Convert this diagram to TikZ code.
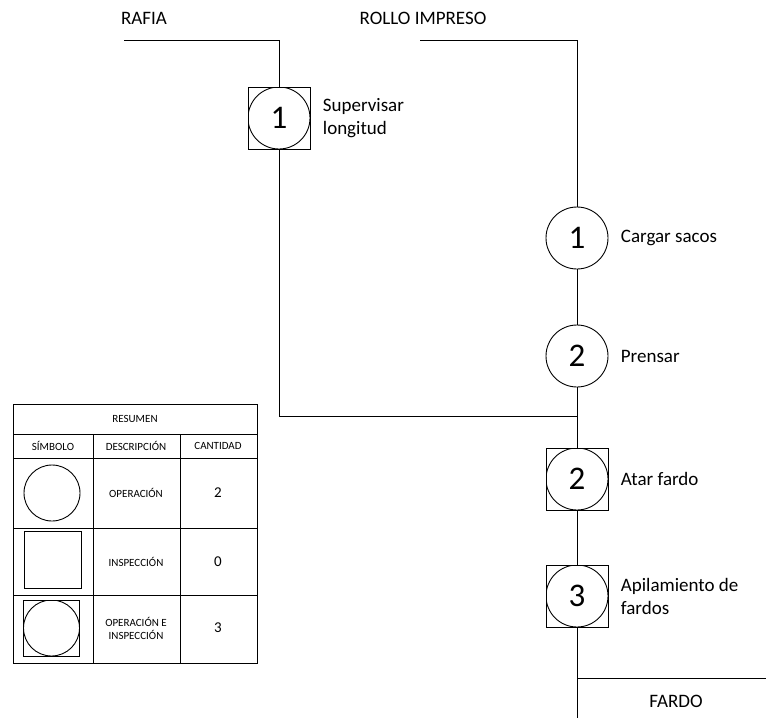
\documentclass[tikz,border=0pt]{standalone}
\usepackage{fontspec}
\setmainfont{Carlito}
\usepackage{tikz}
\usetikzlibrary{positioning}

\begin{document}
\begin{tikzpicture}[
  x=1pt, y=-1pt,
  line width=0.9pt,
  lbl/.style={font=\fontsize{19}{23}\selectfont, align=left, inner sep=0pt},
  op/.style={draw, circle, minimum size=62pt, inner sep=0pt,
    font=\fontsize{33}{33}\selectfont},
  opinsp/.style={draw, minimum size=62pt, inner sep=0pt,
    font=\fontsize{33}{33}\selectfont,
    path picture={\draw (path picture bounding box.center) circle (31pt);}},
  tab/.style={font=\fontsize{11}{13}\selectfont, align=center, inner sep=0pt},
  tabnum/.style={font=\fontsize{15}{15}\selectfont, inner sep=0pt},
]
\useasboundingbox (0,0) rectangle (766,720);

% flow symbols
\node[opinsp] (sup) at (279,118) {1};
\node[op] (op1) at (577,238) {1};
\node[op] (op2) at (577,356) {2};
\node[opinsp] (sq2) at (577,479) {2};
\node[opinsp] (sq3) at (577,596) {3};

\node[lbl, right=12pt of sup] (supl) {Supervisar\\longitud};
\node[lbl, right=12pt of op1] (op1l) {Cargar sacos};
\node[lbl, right=12pt of op2] (op2l) {Prensar};
\node[lbl, right=12pt of sq2] (sq2l) {Atar fardo};
\node[lbl, right=12pt of sq3] (sq3l) {Apilamiento de\\fardos};

\node[lbl] (rafia) at (144,18) {RAFIA};
\node[lbl] (rollo) at (423,18) {ROLLO IMPRESO};
\node[lbl] (fardo) at (676,701) {FARDO};

\coordinate (rafiaend) at (124,40);
\coordinate (rolloend) at (420,40);
\coordinate (junc) at (577,416);
\coordinate (fardoend) at (577,718);
\coordinate (fardocorner) at (577,678);
\coordinate (fardoline) at (766,678);

\draw (rafiaend) -| (sup.north);
\draw (sup.south) |- (junc);
\draw (rolloend) -| (op1.north);
\draw (op1) -- (op2);
\draw (op2.south) -- (junc);
\draw (junc) -- (sq2.north);
\draw (sq2.south) -- (sq3.north);
\draw (sq3.south) -- (fardoend);
\draw (fardocorner) -- (fardoline);

% summary table
\draw (13,404) rectangle (257,663);
\foreach \y in {434,458,528,595}
  \draw (13,\y) -- (257,\y);
\foreach \x in {93,180}
  \draw (\x,434) -- (\x,663);

\node[tab] (resumen) at (135,419) {RESUMEN};
\node[tab] (hsim) at (53,446) {SÍMBOLO};
\node[tab] (hdes) at (136,446) {DESCRIPCIÓN};
\node[tab] (hcan) at (218,446) {CANTIDAD};

\node[draw, circle, minimum size=56pt, inner sep=0pt] (symop) at (52,493) {};
\node[tab] (desop) at (136,493) {OPERACIÓN};
\node[tabnum] (canop) at (218,493) {2};

\node[draw, minimum size=57pt, inner sep=0pt] (syminsp) at (52.5,560) {};
\node[tab] (desinsp) at (136,562) {INSPECCIÓN};
\node[tabnum] (caninsp) at (218,562) {0};

\node[draw, minimum size=56pt, inner sep=0pt,
  path picture={\draw (path picture bounding box.center) circle (28pt);}] (symboth) at (51.5,628) {};
\node[tab] (desboth) at (136,628) {OPERACIÓN E\\INSPECCIÓN};
\node[tabnum] (canboth) at (218,628) {3};
\end{tikzpicture}
\end{document}
